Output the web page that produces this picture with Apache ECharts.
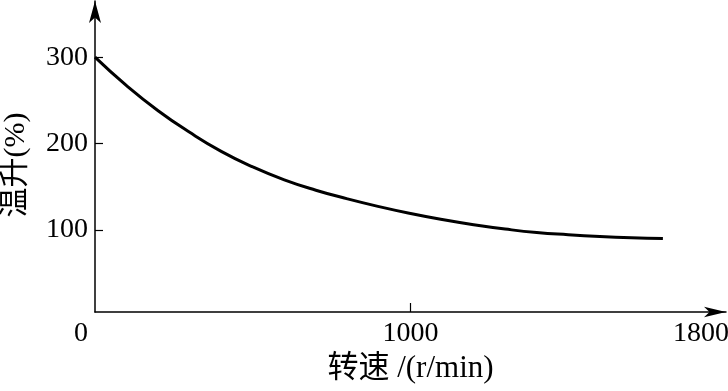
<!DOCTYPE html>
<html><head><meta charset="utf-8">
<script src="https://cdn.jsdelivr.net/npm/echarts@6/dist/echarts.min.js"></script>
<style>html,body{margin:0;padding:0;background:#fff}#c{width:728px;height:391px}</style>
</head><body><div id="c"></div>
<script>
var speed = [0,100,200,300,400,500,600,700,800,900,1000,1100,1200,1300,1400,1500,1600,1700,1800];
var tempRise = [300,267,238,213,191,173,158,146,136,127,119,112,106,101,97,94.5,92.5,91,90];
var xTickLabels = [0,1000,1800];
var yTickLabels = [100,200,300];
var xName = '转速 /(r/min)';
var yName = '温升(%)';

var font = '"Liberation Serif","Noto Sans CJK SC",serif';
var chart = echarts.init(document.getElementById('c'));
chart.setOption({
  backgroundColor: '#fff',
  animation: false,
  grid: {left: 95, right: 2, top: 1, bottom: 79, outerBoundsMode: 'none', containLabel: false},
  xAxis: {
    type: 'value', min: 0, max: 2000,
    name: xName, nameLocation: 'middle', nameGap: 40,
    nameTextStyle: {fontFamily: font, fontSize: 31, color: '#000'},
    axisLine: {show: true, lineStyle: {color: '#000', width: 1.5}, symbol: ['none','arrow'], symbolSize: [8, 22]},
    axisTick: {show: true, inside: true, length: 9, lineStyle: {color: '#000', width: 1.2}, customValues: [1000]},
    axisLabel: {
      show: true, margin: 8, fontFamily: font, fontSize: 28, color: '#000',
      customValues: [0, 1000, 1800],
      formatter: function (v) {
        var i = [0,1000,1800].indexOf(v);
        var t = String(xTickLabels[i]);
        if (v === 0) return '{l|' + t + '}';
        if (v === 1800) return '{r|' + t + '}';
        return t;
      },
      rich: {
        l: {fontFamily: font, fontSize: 28, color: '#000', padding: [0, 28, 0, 0]},
        r: {fontFamily: font, fontSize: 28, color: '#000', padding: [0, 0, 0, 76]}
      }
    },
    splitLine: {show: false}
  },
  yAxis: {
    type: 'value', min: 5, max: 365,
    name: yName, nameLocation: 'middle', nameGap: 64, nameRotate: 90,
    nameTextStyle: {fontFamily: font, fontSize: 30, color: '#000', padding: [0, 17, 0, 0]},
    axisLine: {show: true, lineStyle: {color: '#000', width: 1.5}, symbol: ['none','arrow'], symbolSize: [9, 22]},
    axisTick: {show: true, inside: true, length: 8, lineStyle: {color: '#000', width: 1.2}, customValues: yTickLabels},
    axisLabel: {show: true, margin: 7, fontFamily: font, fontSize: 28, color: '#000', customValues: yTickLabels},
    splitLine: {show: false}
  },
  series: [{
    type: 'line', smooth: true, showSymbol: false,
    data: speed.map(function (s, i) { return [s, tempRise[i]]; }),
    lineStyle: {color: '#000', width: 3}
  }]
});
</script>
</body></html>
